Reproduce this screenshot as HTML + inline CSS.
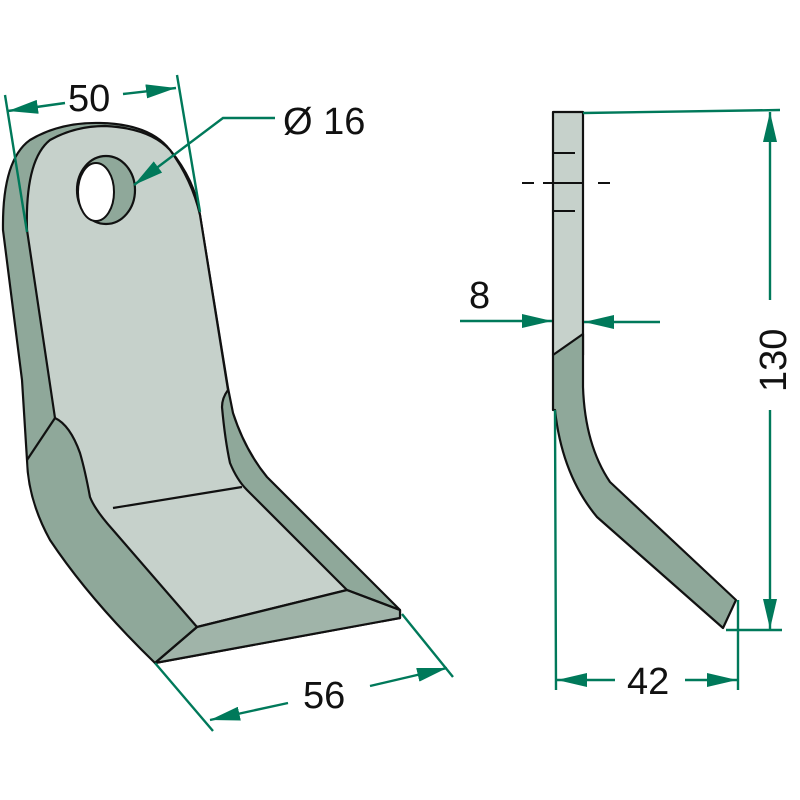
<!DOCTYPE html>
<html><head><meta charset="utf-8"><style>html,body{margin:0;padding:0;background:#fff}svg{display:block}</style></head>
<body>
<svg width="800" height="800" viewBox="0 0 800 800" xmlns="http://www.w3.org/2000/svg">
<defs>
<marker id="a" viewBox="0 0 30 14" refX="30" refY="7" markerWidth="30" markerHeight="14" markerUnits="userSpaceOnUse" orient="auto"><path d="M0,0 L30,7 L0,14 Z" fill="#00795a"/></marker>
</defs>
<style>.o{stroke:#111;stroke-width:2.2;stroke-linejoin:round}.g{stroke:#00795a;stroke-width:2.4;fill:none}.t{font-family:"Liberation Sans",sans-serif;font-size:38px;fill:#111}</style>
<path class="o" fill="#8fa89a" d="M3,230 Q2,160 30,140 Q60,122 100,123 Q150,124 170,150 Q195,180 200,215 L228,388 L233,413 Q245,450 267,477 L400,610 L400,618 L155,663 Q90,600 50,540 Q28,500 27,460 L22,380 Z"/>
<path class="o" fill="#c6d1cb" d="M27,230 Q25,160 50,140 Q75,126 105,126 Q150,128 170,150 Q192,180 200,215 L228,390 Q222,398 222,407 Q225,440 230,463 Q237,480 247,490 L347,590 L197,627 L113,530 Q95,510 90,497 Q85,470 80,453 Q70,425 55,418 Z"/>
<path class="o" fill="none" d="M27,460 L55,418"/>
<path class="o" fill="#a0b4a9" d="M197,627 L347,590 L400,610 L400,618 L155,663 Z"/>
<path class="o" fill="none" d="M197,627 L155,663 M347,590 L400,610"/>
<path class="o" fill="none" d="M113,508 L242,487"/>
<ellipse class="o" cx="106" cy="190" rx="29" ry="34" fill="#8fa89a"/>
<ellipse cx="96" cy="192" rx="18" ry="29" fill="#fff" stroke="#111" stroke-width="2"/>
<path class="g" d="M5,95 L27,232 M177,75 L200,212"/>
<path class="g" marker-end="url(#a)" d="M65,103 L8,111"/>
<path class="g" marker-end="url(#a)" d="M123,94 L176,88"/>
<text class="t" x="68" y="111">50</text>
<path class="g" marker-end="url(#a)" d="M275,118 L223,118 L134,185"/>
<text class="t" x="283" y="134">Ø 16</text>
<path class="g" d="M155,663 L213,731 M402,614 L453,677"/>
<path class="g" marker-end="url(#a)" d="M288,703 L210,720"/>
<path class="g" marker-end="url(#a)" d="M370,686 L447,668"/>
<text class="t" x="303" y="708">56</text>
<rect class="o" x="553" y="112" width="30" height="243" fill="#c6d1cb"/>
<path class="o" fill="#8fa89a" d="M553,355 L583,334 L583,387 Q585,445 610,482 L736,600 L723,628 L597,517 Q562,475 555,410 L553,410 Z"/>
<path stroke="#111" stroke-width="2" d="M522,183 L534,183 M543,183 L582,183 M598,183 L610,183 M552,153 L575,153 M552,211 L575,211"/>
<path class="g" marker-end="url(#a)" d="M460,321 L552,321"/>
<path class="g" marker-end="url(#a)" d="M660,322 L584,322"/>
<text class="t" x="469" y="308">8</text>
<path class="g" d="M583,113 L780,110 M726,630 L782,630"/>
<path class="g" marker-end="url(#a)" d="M770,300 L770,112"/>
<path class="g" marker-end="url(#a)" d="M770,410 L770,629"/>
<text class="t" transform="translate(786,392) rotate(-90)">130</text>
<path class="g" d="M555,410 L556,690 M738,600 L738,690"/>
<path class="g" marker-end="url(#a)" d="M615,680 L557,680"/>
<path class="g" marker-end="url(#a)" d="M685,680 L737,680"/>
<text class="t" x="627" y="694">42</text>
</svg>
</body></html>
